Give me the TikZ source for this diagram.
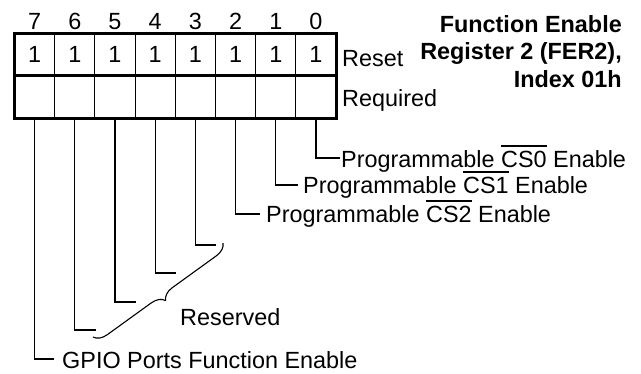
\documentclass[tikz,border=0pt]{standalone}
\usepackage{fontspec}
\setmainfont{Liberation Sans}
\usetikzlibrary{decorations.pathreplacing}
\newcommand\ovl[1]{\leavevmode\vbox{\hrule height 1.3pt\kern 4pt\hbox{#1}}}
\begin{document}
\begin{tikzpicture}[x=1pt,y=-1pt,
  txt/.style={font=\fontsize{23.4}{28}\selectfont, inner sep=0pt},
  boldtxt/.style={font=\fontsize{23.4}{28}\selectfont\bfseries, inner sep=0pt},
  cell/.style={minimum width=40.2pt, minimum height=42.5pt, inner sep=0pt, draw=none},
  thinline/.style={line width=1.1pt},
  border/.style={line width=3pt}]
\useasboundingbox (0,0) rectangle (641,373);
% register cells
\foreach \i in {0,...,7} {
  \node[cell, txt] (v\i) at ({34.6+40.2*(7-\i)},54.25) {1};
  \node[cell] (r\i) at ({34.6+40.2*(7-\i)},96.75) {};
  \node[txt, anchor=base] (b\i) at ({34.6+40.2*(7-\i)},29) {\i};
}
\foreach \k in {1,...,7} \draw[thinline] ({14.5+40.2*\k},33) -- ({14.5+40.2*\k},118);
\draw[border] (14.5,33) rectangle (336.1,118);
\draw[border] (14.5,75.5) -- (336.1,75.5);
% row labels
\node[txt, anchor=base west] (reset) at (342,66) {Reset};
\node[txt, anchor=base west] (req) at (342,106) {Required};
% title
\node[boldtxt, anchor=base east] (t1) at (622,32) {Function Enable};
\node[boldtxt, anchor=base east] (t2) at (622,59) {Register 2 (FER2),};
\node[boldtxt, anchor=base east] (t3) at (622,87) {Index 01h};
% bit descriptions
\node[txt, anchor=base west] (d0) at (341,167) {Programmable \ovl{CS0} Enable};
\node[txt, anchor=base west] (d1) at (303,193) {Programmable \ovl{CS1} Enable};
\node[txt, anchor=base west] (d2) at (266,222) {Programmable \ovl{CS2} Enable};
\node[txt, anchor=base west] (d7) at (62,368) {GPIO Ports Function Enable};
\node[txt, anchor=base west] (dres) at (180,325) {Reserved};
\coordinate (e0) at (340,158);
\coordinate (e1) at (298,185);
\coordinate (e2) at (260,214);
\coordinate (e3) at (216,245);
\coordinate (e4) at (176,273);
\coordinate (e5) at (136,302);
\coordinate (e6) at (96,330);
\coordinate (e7) at (54,359);
\foreach \i in {0,...,7} \draw[thinline] (r\i.south) |- (e\i);
% brace for reserved bits
\coordinate (bt) at (223,243);
\coordinate (bb) at (93,337);
\draw[thinline, decorate, decoration={brace, amplitude=13pt}] (bt) -- (bb);
\end{tikzpicture}
\end{document}
